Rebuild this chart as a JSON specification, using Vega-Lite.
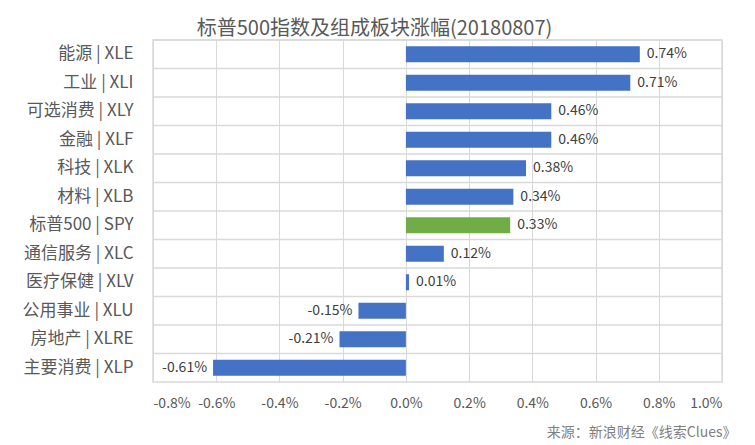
{
  "$schema": "https://vega.github.io/schema/vega-lite/v6.json",
  "autosize": {"type": "none"},
  "padding": {"left": 153, "top": 40, "right": 33, "bottom": 63},
  "width": 569,
  "height": 342,
  "background": "#ffffff",
  "config": {
    "font": "Noto Sans CJK SC",
    "view": {"stroke": "#d9d9d9", "strokeWidth": 1.5},
    "locale": {
      "number": {"decimal": ".", "thousands": ",", "grouping": [3], "currency": ["$", ""], "minus": "-"}
    }
  },
  "title": {
    "text": "标普500指数及组成板块涨幅(20180807)",
    "anchor": "middle",
    "frame": "group",
    "dx": -63,
    "offset": 0,
    "fontSize": 20,
    "fontWeight": "normal",
    "color": "#595959",
    "font": "Noto Sans CJK SC"
  },
  "data": {
    "values": [
      {"name": "能源 | XLE", "code": "XLE", "value": 0.0074},
      {"name": "工业 | XLI", "code": "XLI", "value": 0.0071},
      {"name": "可选消费 | XLY", "code": "XLY", "value": 0.0046},
      {"name": "金融 | XLF", "code": "XLF", "value": 0.0046},
      {"name": "科技 | XLK", "code": "XLK", "value": 0.0038},
      {"name": "材料 | XLB", "code": "XLB", "value": 0.0034},
      {"name": "标普500 | SPY", "code": "SPY", "value": 0.0033},
      {"name": "通信服务 | XLC", "code": "XLC", "value": 0.0012},
      {"name": "医疗保健 | XLV", "code": "XLV", "value": 0.0001},
      {"name": "公用事业 | XLU", "code": "XLU", "value": -0.0015},
      {"name": "房地产 | XLRE", "code": "XLRE", "value": -0.0021},
      {"name": "主要消费 | XLP", "code": "XLP", "value": -0.0061}
    ]
  },
  "encoding": {
    "y": {
      "field": "name",
      "type": "nominal",
      "sort": null,
      "scale": {"paddingInner": 0, "paddingOuter": 0},
      "axis": {
        "title": null,
        "domain": false,
        "ticks": false,
        "grid": false,
        "labelFontSize": 17,
        "labelColor": "#595959",
        "labelPadding": 20,
        "labelFont": "Noto Sans CJK SC"
      }
    }
  },
  "layer": [
    {
      "mark": {"type": "rule", "color": "#d9d9d9", "strokeWidth": 1.5},
      "encoding": {
        "y": {"field": "name", "type": "nominal", "sort": null, "bandPosition": 0}
      }
    },
    {
      "mark": {"type": "bar", "height": {"band": 0.56}},
      "encoding": {
        "x": {
          "field": "value",
          "type": "quantitative",
          "scale": {"domain": [-0.008, 0.01], "nice": false, "zero": false},
          "axis": {
            "values": [-0.008, -0.006, -0.004, -0.002, 0, 0.002, 0.004, 0.006, 0.008, 0.01],
            "format": ".1%",
            "domain": false,
            "ticks": false,
            "grid": true,
            "gridColor": "#d9d9d9",
            "labelFontSize": 14,
            "labelColor": "#595959",
            "labelPadding": 14,
            "labelFont": "Noto Sans CJK SC",
            "title": "来源：新浪财经《线索Clues》",
            "titleAnchor": null,
            "titleX": 583,
            "titleY": 50,
            "titleAlign": "right",
            "titleBaseline": "middle",
            "titleFontSize": 14,
            "titleFontWeight": "normal",
            "titleColor": "#7f7f7f",
            "titleFont": "Noto Sans CJK SC"
          }
        },
        "x2": {"datum": 0},
        "color": {
          "condition": {"test": "datum.code === 'SPY'", "value": "#70AD47"},
          "value": "#4472C4"
        }
      }
    },
    {
      "transform": [{"filter": "datum.value >= 0"}],
      "mark": {"type": "text", "align": "left", "baseline": "middle", "dx": 7, "fontSize": 14, "color": "#404040", "font": "Noto Sans CJK SC"},
      "encoding": {
        "x": {"field": "value", "type": "quantitative"},
        "text": {"field": "value", "type": "quantitative", "format": ".2%"}
      }
    },
    {
      "transform": [{"filter": "datum.value < 0"}],
      "mark": {"type": "text", "align": "right", "baseline": "middle", "dx": -6, "fontSize": 14, "color": "#404040", "font": "Noto Sans CJK SC"},
      "encoding": {
        "x": {"field": "value", "type": "quantitative"},
        "text": {"field": "value", "type": "quantitative", "format": ".2%"}
      }
    }
  ]
}
